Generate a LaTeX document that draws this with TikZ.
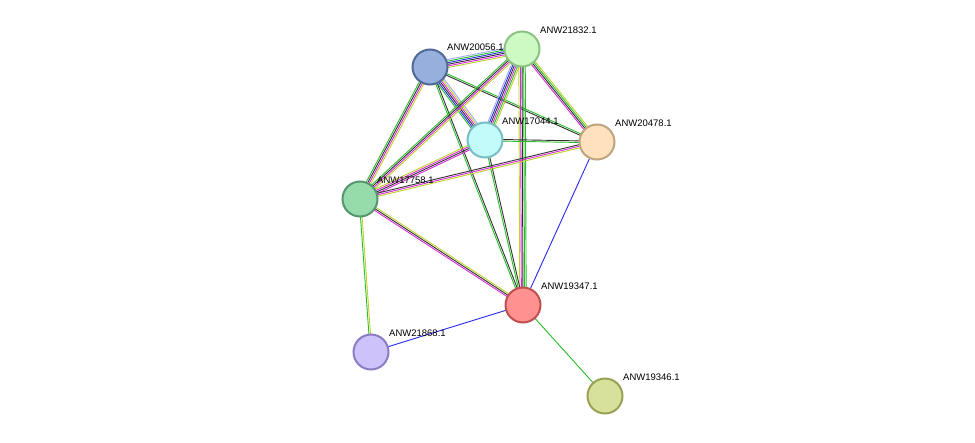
\documentclass[tikz,border=0pt]{standalone}
\usepackage{fontspec}
\setmainfont{Liberation Sans}
\usetikzlibrary{calc}
\definecolor{eg}{RGB}{40,190,40}
\definecolor{ek}{RGB}{50,50,50}
\definecolor{em}{RGB}{220,40,220}
\definecolor{eb}{RGB}{40,40,240}
\definecolor{ey}{RGB}{190,210,40}
\definecolor{el}{RGB}{160,170,250}
\newcommand{\bundle}[3]{%
  \foreach \c [count=\i] in {#3} {\xdef\nb{\i}}%
  \foreach \c [count=\i] in {#3} {%
    \pgfmathsetmacro{\off}{(\i-(\nb+1)/2)*1.6}%
    \draw[\c,line width=0.9pt] ($(#1)!\off pt!90:(#2)$) -- ($(#2)!\off pt!-90:(#1)$);}}
\tikzset{prot/.style={circle,minimum size=35pt,inner sep=0pt,line width=2pt},
lab/.style={font=\fontsize{9.5pt}{10pt}\selectfont,anchor=south west,inner sep=1pt}}
\begin{document}
\begin{tikzpicture}[x=1pt,y=-1pt]
\useasboundingbox[fill=white] (0,0) rectangle (975,442);
\coordinate (A) at (430,67);
\coordinate (B) at (522,49);
\coordinate (C) at (485,140);
\coordinate (D) at (597,142);
\coordinate (E) at (360,199);
\coordinate (F) at (523,305);
\coordinate (G) at (371,352);
\coordinate (H) at (605,396);
\bundle{A}{B}{ey,em,ek,eb,eg,el}
\bundle{A}{C}{eg,eb,ek,em,ey,el}
\bundle{A}{D}{ek,eg}
\bundle{A}{E}{eg,ek,em,ey}
\bundle{A}{F}{eg,ek}
\bundle{B}{C}{el,eb,ek,em,eg,ey}
\bundle{B}{D}{em,ek,eg,ey}
\bundle{B}{E}{eg,ek,em,ey}
\bundle{B}{F}{ey,em,ek,eg,eg}
\bundle{C}{D}{eg,ek}
\bundle{C}{E}{ey,em,ek,em}
\bundle{C}{F}{eg,ek}
\bundle{D}{E}{ek,em,ey}
\bundle{D}{F}{eb}
\bundle{E}{F}{em,ek,ey}
\bundle{E}{G}{eg,ey}
\bundle{G}{F}{eb}
\bundle{F}{H}{eg}
\node[prot,fill={rgb,255:red,150;green,175;blue,220},draw={rgb,255:red,80;green,105;blue,150}] (a) at (A) {};
\node[prot,fill={rgb,255:red,205;green,250;blue,195},draw={rgb,255:red,140;green,195;blue,130}] (b) at (B) {};
\node[prot,fill={rgb,255:red,195;green,250;blue,250},draw={rgb,255:red,120;green,190;blue,195}] (c) at (C) {};
\node[prot,fill={rgb,255:red,255;green,225;blue,190},draw={rgb,255:red,190;green,165;blue,125}] (d) at (D) {};
\node[prot,fill={rgb,255:red,150;green,220;blue,170},draw={rgb,255:red,85;green,150;blue,110}] (e) at (E) {};
\node[prot,fill={rgb,255:red,255;green,145;blue,145},draw={rgb,255:red,190;green,80;blue,80}] (f) at (F) {};
\node[prot,fill={rgb,255:red,205;green,195;blue,250},draw={rgb,255:red,140;green,125;blue,195}] (g) at (G) {};
\node[prot,fill={rgb,255:red,215;green,225;blue,155},draw={rgb,255:red,155;green,160;blue,85}] (h) at (H) {};
\node[lab] (la) at (446,52) {ANW20056.1};
\node[lab] (lb) at (539,35) {ANW21832.1};
\node[lab] (lc) at (501,126) {ANW17044.1};
\node[lab] (ld) at (614,128) {ANW20478.1};
\node[lab] (le) at (376,185) {ANW17758.1};
\node[lab] (lf) at (540,291) {ANW19347.1};
\node[lab] (lg) at (388,338) {ANW21868.1};
\node[lab] (lh) at (622,382) {ANW19346.1};
\end{tikzpicture}
\end{document}
